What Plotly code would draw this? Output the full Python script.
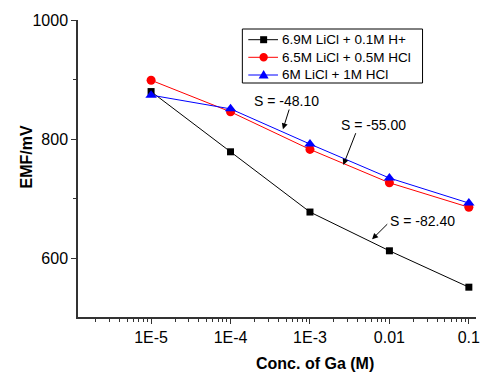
import plotly.graph_objects as go

conc = [1e-5, 1e-4, 1e-3, 1e-2, 1e-1]
emf_01 = [880, 779, 678, 613, 552]
emf_05 = [899, 846, 783, 727, 686]
emf_1 = [874, 851, 792, 735, 693]
names = ["6.9M LiCl + 0.1M H+", "6.5M LiCl + 0.5M HCl", "6M LiCl + 1M HCl"]
colors = ["black", "#ff0000", "#0000ff"]
symbols = ["square", "circle", "triangle-up"]
xtick_vals = [1e-5, 1e-4, 1e-3, 1e-2, 1e-1]
xtick_text = ["1E-5", "1E-4", "1E-3", "0.01", "0.1"]
minor_x = [m * 10.0 ** e for e in range(-6, 0) for m in range(2, 10)]

FONT = "Arial, Liberation Sans, sans-serif"
W, H = 486, 372
L, R, T, B = 78, 6, 20, 55
PW, PH = W - L - R, H - T - B

def px(x):
    return (x - L) / PW

def py(y):
    return 1 - (y - T) / PH

fig = go.Figure()
sizes = [7, 9, 10]
for ys, nm, c, s, sz in zip([emf_01, emf_05, emf_1], names, colors, symbols, sizes):
    fig.add_trace(go.Scatter(x=conc, y=ys, name=nm, mode="lines+markers",
                             line=dict(color=c, width=1),
                             marker=dict(symbol=s, size=sz, color=c, line=dict(width=0)),
                             showlegend=False))

axcol = "#333333"
fig.update_layout(
    width=W, height=H,
    margin=dict(l=L, r=R, t=T, b=B),
    paper_bgcolor="white", plot_bgcolor="white",
    font=dict(family=FONT, color="black"),
    showlegend=False,
    xaxis=dict(type="log", range=[-5.92, -0.91],
               tickmode="array", tickvals=xtick_vals, ticktext=xtick_text,
               ticks="outside", ticklen=5, tickcolor=axcol,
               showline=True, linecolor=axcol, linewidth=1.5,
               showgrid=False, zeroline=False,
               tickfont=dict(size=16, family=FONT),
               minor=dict(tickmode="array", tickvals=minor_x, ticks="outside",
                          ticklen=3, tickcolor=axcol, showgrid=False)),
    yaxis=dict(range=[502, 1000], tickmode="array", tickvals=[600, 800, 1000],
               ticks="outside", ticklen=5, tickcolor=axcol,
               showline=True, linecolor=axcol, linewidth=1.5,
               showgrid=False, zeroline=False,
               tickfont=dict(size=16, family=FONT),
               minor=dict(tickmode="array", tickvals=[700, 900], ticks="outside",
                          ticklen=3, tickcolor=axcol, showgrid=False)),
)

# legend box (drawn manually to match the compact original)
fig.add_shape(type="rect", xref="paper", yref="paper", x0=px(244), x1=px(426), y0=py(29), y1=py(83),
              line=dict(color="black", width=1), fillcolor="white", layer="above")
row_y = [39.7, 57.3, 75]
for nm, c, s, ry in zip(names, colors, symbols, row_y):
    fig.add_shape(type="line", xref="paper", yref="paper", x0=px(250), x1=px(280), y0=py(ry), y1=py(ry),
                  line=dict(color=c, width=1), layer="above")
    if s == "square":
        fig.add_shape(type="rect", xref="paper", yref="paper", xsizemode="pixel", ysizemode="pixel",
                      xanchor=px(265.5), yanchor=py(ry), x0=-3.5, x1=3.5, y0=-3.5, y1=3.5,
                      fillcolor=c, line=dict(width=0), layer="above")
    elif s == "circle":
        fig.add_shape(type="circle", xref="paper", yref="paper", xsizemode="pixel", ysizemode="pixel",
                      xanchor=px(265.5), yanchor=py(ry), x0=-4.2, x1=4.2, y0=-4.2, y1=4.2,
                      fillcolor=c, line=dict(width=0), layer="above")
    else:
        fig.add_shape(type="path", xref="paper", yref="paper", xsizemode="pixel", ysizemode="pixel",
                      xanchor=px(265.5), yanchor=py(ry), path="M-5,-3.5 L5,-3.5 L0,5 Z",
                      fillcolor=c, line=dict(width=0), layer="above")
    fig.add_annotation(text=nm, x=px(282.5), y=py(ry), xref="paper", yref="paper", showarrow=False,
                       font=dict(size=13.5, family=FONT), xanchor="left", yanchor="middle")

# axis titles
fig.add_annotation(text="<b>Conc. of Ga (M)</b>", x=px(317), y=py(363), xref="paper", yref="paper",
                   showarrow=False, font=dict(size=16, family=FONT), xanchor="center", yanchor="middle")
fig.add_annotation(text="<b>EMF/mV</b>", x=px(25), y=py(157), xref="paper", yref="paper",
                   showarrow=False, textangle=-90, font=dict(size=16, family=FONT),
                   xanchor="center", yanchor="middle")

# slope labels
labels = [("S = -48.10", 289, 101), ("S = -55.00", 376, 125), ("S = -82.40", 426, 221)]
for t, x, y in labels:
    fig.add_annotation(text=t, x=px(x), y=py(y), xref="paper", yref="paper", showarrow=False,
                       font=dict(size=14, family=FONT), xanchor="center", yanchor="middle")

arrows = [((285, 129.3), (291.7, 108)), ((346, 165), (359, 131.7)), ((375, 239.3), (391.7, 222.7))]
for (hx, hy), (tx, ty) in arrows:
    fig.add_annotation(text="", x=px(hx), y=py(hy), xref="paper", yref="paper",
                       showarrow=True, ax=tx - hx, ay=ty - hy, axref="pixel", ayref="pixel",
                       arrowhead=2, arrowsize=1.2, arrowwidth=1, arrowcolor="black", standoff=0)

fig.write_html("out.html", config={"displayModeBar": False},
               post_script="document.body.style.margin='0';document.body.style.padding='0';")
